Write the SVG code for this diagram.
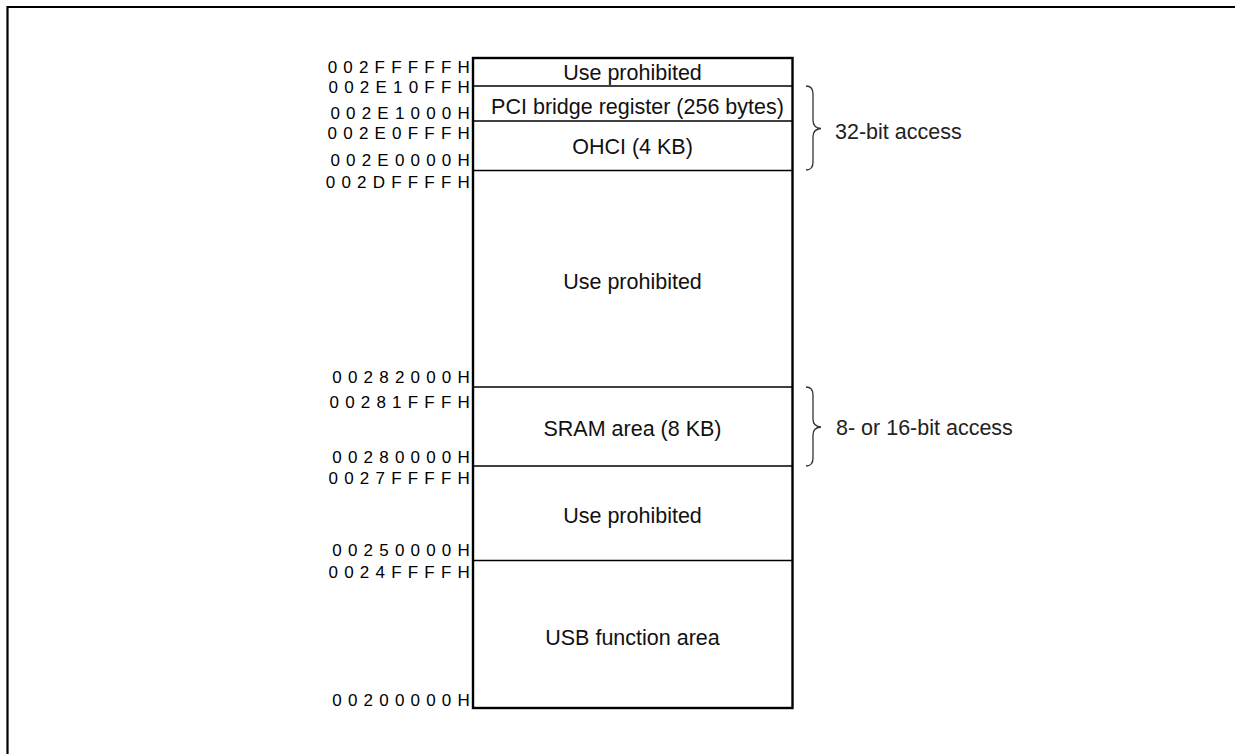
<svg xmlns="http://www.w3.org/2000/svg" width="1235" height="754" viewBox="0 0 1235 754">
<style>
.addr{font-family:"Liberation Sans",Arial,sans-serif;font-size:17px;letter-spacing:6.2px;fill:#000;text-anchor:end}
.lbl{font-family:"Liberation Sans",Arial,sans-serif;font-size:21.5px;fill:#111;text-anchor:middle}
.side{font-family:"Liberation Sans",Arial,sans-serif;font-size:21.5px;fill:#222}
.div{stroke:#000;stroke-width:1.4;fill:none}
.brace{stroke:#333;stroke-width:1.3;fill:none}
</style>
<rect x="0" y="0" width="1235" height="754" fill="#fff"/>
<path d="M7.5,754 V7 H1235" stroke="#000" stroke-width="2.2" fill="none"/>
<g id="memory-map">
<rect x="473" y="58" width="319.5" height="650" fill="#fff" stroke="#000" stroke-width="2.4"/>
</g>
<g id="dividers">
<line class="div" x1="473" y1="86" x2="792.5" y2="86"/>
<line class="div" x1="473" y1="121" x2="792.5" y2="121"/>
<line class="div" x1="473" y1="170.5" x2="792.5" y2="170.5"/>
<line class="div" x1="473" y1="387" x2="792.5" y2="387"/>
<line class="div" x1="473" y1="466" x2="792.5" y2="466"/>
<line class="div" x1="473" y1="560.5" x2="792.5" y2="560.5"/>
</g>
<g id="region-use-prohibited-1"><text class="lbl" x="632.5" y="80">Use prohibited</text></g>
<g id="region-pci"><text class="lbl" x="637.5" y="114">PCI bridge register (256 bytes)</text></g>
<g id="region-ohci"><text class="lbl" x="632.5" y="154">OHCI (4 KB)</text></g>
<g id="region-use-prohibited-2"><text class="lbl" x="632.5" y="289">Use prohibited</text></g>
<g id="region-sram"><text class="lbl" x="632.5" y="436">SRAM area (8 KB)</text></g>
<g id="region-use-prohibited-3"><text class="lbl" x="632.5" y="523">Use prohibited</text></g>
<g id="region-usb"><text class="lbl" x="632.5" y="645">USB function area</text></g>
<g id="addresses">
<text class="addr" x="476" y="73">002FFFFFH</text>
<text class="addr" x="476" y="93">002E10FFH</text>
<text class="addr" x="476" y="119">002E1000H</text>
<text class="addr" x="476" y="139">002E0FFFH</text>
<text class="addr" x="476" y="166">002E0000H</text>
<text class="addr" x="476" y="188">002DFFFFH</text>
<text class="addr" x="476" y="383">00282000H</text>
<text class="addr" x="476" y="408">00281FFFH</text>
<text class="addr" x="476" y="463">00280000H</text>
<text class="addr" x="476" y="484">0027FFFFH</text>
<text class="addr" x="476" y="556">00250000H</text>
<text class="addr" x="476" y="578">0024FFFFH</text>
<text class="addr" x="476" y="706">00200000H</text>
</g>
<g id="connectors">
<path class="brace" d="M806,86 Q813,86 813,94 L813,120 Q813,128 821,128.5 Q813,129 813,137 L813,162 Q813,170 806,170"/>
<path class="brace" d="M806,387 Q813,387 813,395 L813,419 Q813,426.5 821,427 Q813,427.5 813,435 L813,458 Q813,466 806,466"/>
</g>
<g id="access-32"><text class="side" x="835" y="139">32-bit access</text></g>
<g id="access-8-16"><text class="side" x="836" y="435">8- or 16-bit access</text></g>
</svg>
